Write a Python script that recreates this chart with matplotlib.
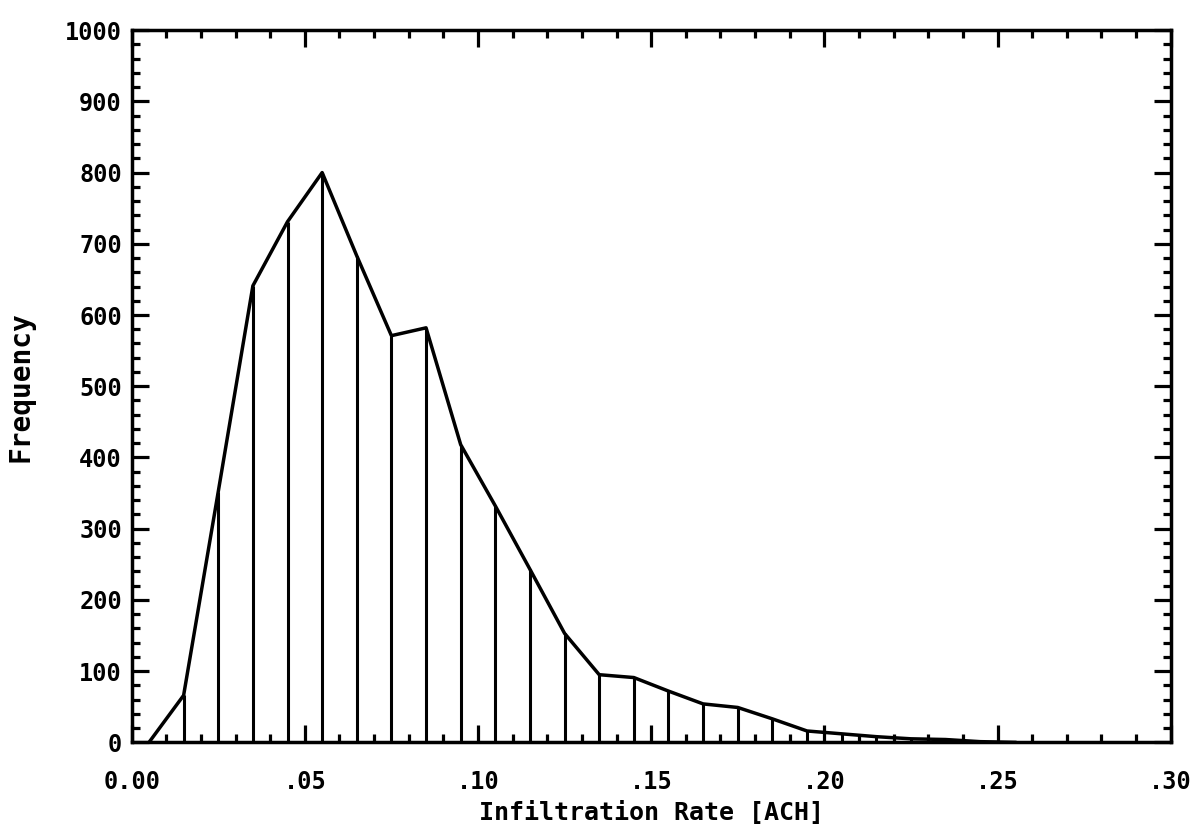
import matplotlib
matplotlib.use('Agg')
import matplotlib.pyplot as plt
from matplotlib.ticker import MultipleLocator, FuncFormatter

# bin centres [ACH] and counts
rate = [0.005, 0.015, 0.025, 0.035, 0.045, 0.055, 0.065, 0.075, 0.085,
        0.095, 0.105, 0.115, 0.125, 0.135, 0.145, 0.155, 0.165, 0.175,
        0.185, 0.195, 0.205, 0.215, 0.225, 0.235, 0.245, 0.255]
freq = [0, 66, 352, 641, 731, 800, 683, 571, 582,
        418, 332, 243, 153, 95, 91, 72, 54, 49,
        33, 16, 12, 8, 5, 4, 1, 0]

plt.rcParams['font.family'] = 'DejaVu Sans Mono'
plt.rcParams['font.weight'] = 'bold'

fig = plt.figure(figsize=(11.97, 8.36), dpi=100)
ax = fig.add_axes([0.110, 0.112, 0.868, 0.852])

# polygon + drop lines
ax.plot(rate, freq, color='black', lw=2.5)
ax.vlines(rate[1:-1], 0, freq[1:-1], color='black', lw=2.2)

ax.set_xlim(0, 0.30)
ax.set_ylim(0, 1000)

ax.xaxis.set_major_locator(MultipleLocator(0.05))
ax.xaxis.set_minor_locator(MultipleLocator(0.01))
ax.yaxis.set_major_locator(MultipleLocator(100))
ax.yaxis.set_minor_locator(MultipleLocator(20))

def xfmt(v, pos):
    if abs(v) < 1e-9:
        return '0.00'
    return '.%02d' % round(v * 100)

ax.xaxis.set_major_formatter(FuncFormatter(xfmt))

ax.tick_params(which='both', direction='in', top=True, right=True, width=2.3)
ax.tick_params(which='major', length=12, labelsize=17)
ax.tick_params(axis='x', which='major', pad=20)
ax.tick_params(axis='y', which='major', pad=7)
ax.tick_params(which='minor', length=6)
for s in ax.spines.values():
    s.set_linewidth(2.5)

ax.set_xlabel('Infiltration Rate [ACH]', fontsize=18, fontweight='bold', labelpad=5)
ax.set_ylabel('Frequency', fontsize=20, fontweight='bold', labelpad=22)

fig.savefig('out.png', dpi=100)
